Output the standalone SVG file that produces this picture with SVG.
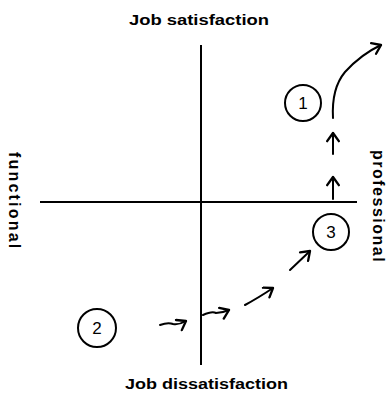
<svg xmlns="http://www.w3.org/2000/svg" width="386" height="396" viewBox="0 0 386 396">
<style>
.ax{stroke:#000;stroke-width:2;fill:none}
.c{stroke:#000;stroke-width:2;fill:#fff}
.n{font-family:"Liberation Sans",Arial,sans-serif;font-size:17px;fill:#000;text-anchor:middle}
.lb{font-family:"Liberation Sans",Arial,sans-serif;font-size:14px;font-weight:bold;fill:#000}
.vl{font-family:"Liberation Sans",Arial,sans-serif;font-size:16px;font-weight:bold;fill:#000}
.ar{stroke:#000;stroke-width:2;fill:none;stroke-linecap:round;marker-end:url(#h)}
</style>
<defs>
<marker id="h" markerUnits="userSpaceOnUse" markerWidth="14" markerHeight="14" refX="9" refY="6" orient="auto" viewBox="0 0 12 12">
<path d="M2,1 L9,6 L2,11" fill="none" stroke="#000" stroke-width="2" stroke-linecap="round" stroke-linejoin="round"/>
</marker>
</defs>
<g id="axes">
<line class="ax" x1="201" y1="45" x2="201" y2="365"/>
<line class="ax" x1="40" y1="202" x2="357" y2="202"/>
</g>
<g id="labels">
<text class="lb" x="129" y="25" textLength="140" lengthAdjust="spacingAndGlyphs">Job satisfaction</text>
<text class="lb" x="125" y="389" textLength="163" lengthAdjust="spacingAndGlyphs">Job dissatisfaction</text>
<text class="vl" transform="translate(9,152) rotate(90)" x="0" y="0" letter-spacing="2.2">functional</text>
<text class="vl" transform="translate(373,150) rotate(90)" x="0" y="0" letter-spacing="1.5">professional</text>
</g>
<g id="node1">
<circle class="c" cx="303" cy="103" r="18"/>
<text class="n" x="303" y="109">1</text>
</g>
<g id="node2">
<circle class="c" cx="97" cy="328" r="19"/>
<text class="n" x="97" y="334">2</text>
</g>
<g id="node3">
<circle class="c" cx="331" cy="232" r="18"/>
<text class="n" x="331" y="238">3</text>
</g>
<g id="connectors">
<path class="ar" d="M160,325 Q168,322 173,324 Q179,325 186,321"/>
<path class="ar" d="M203,315 Q212,311 216,313 Q222,313 229,310"/>
<path class="ar" d="M245,305 Q258,298 273,288"/>
<path class="ar" d="M290,270 L310,251"/>
<path class="ar" d="M333,199 L333,177"/>
<path class="ar" d="M333,154 L333,133"/>
<path class="ar" d="M333,118 C332,100 335,84 345,72 C355,61 366,52 381,45"/>
</g>
</svg>
